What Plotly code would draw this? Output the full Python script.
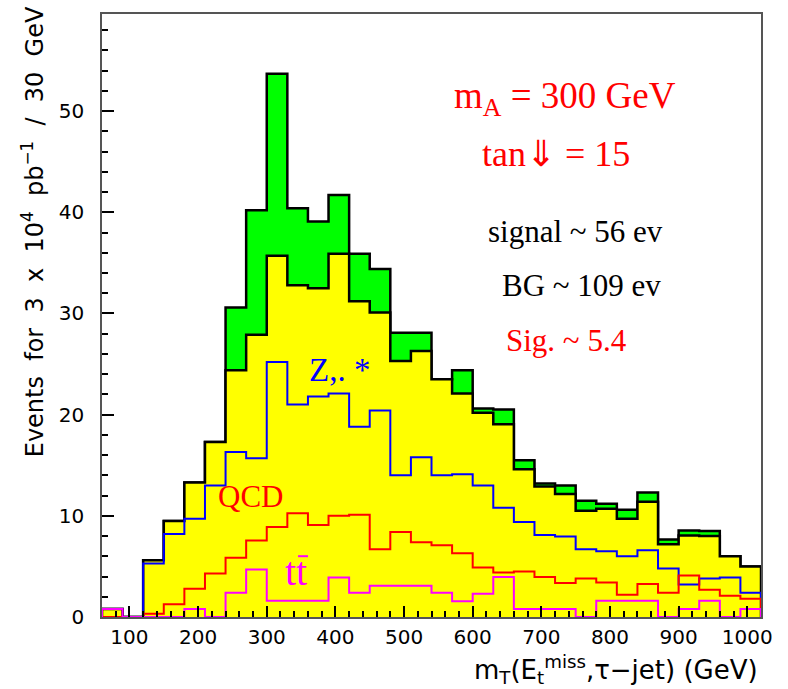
import plotly.graph_objects as go

# ---- data (30 GeV bins from 60 to 1020 GeV) ----
bin_lo = 60
bin_w = 30
n_bins = 32

total_sig_bg = [0.8, 0, 5.6, 9.5, 13.3, 17.3, 30.6, 40.2, 53.7, 40.4, 39.1, 41.7, 35.9, 34.4,
                28.1, 28.1, 23.5, 24.4, 20.6, 20.5, 15.5, 13.2, 13.0, 11.5, 11.2, 10.6, 12.3,
                7.65, 8.55, 8.5, 6.0, 5.0]
total_bg = [0.8, 0, 5.6, 9.5, 13.3, 17.3, 24.4, 27.9, 35.7, 32.8, 32.5, 35.9, 31.2, 30.1,
            25.3, 26.3, 23.5, 22.1, 20.2, 19.05, 14.6, 12.9, 12.15, 10.5, 10.7, 9.7, 11.4,
            7.2, 8.05, 8.0, 6.0, 5.0]
z_gamma = [0, 0, 5.3, 8.2, 9.7, 13.0, 16.3, 15.7, 25.2, 21.0, 21.8, 22.1, 18.8, 20.4,
           14.0, 15.8, 14.0, 14.1, 13.0, 10.8, 9.4, 8.1, 7.95, 6.7, 6.5, 6.0, 6.6,
           4.8, 3.2, 3.8, 3.9, 2.4]
qcd = [0, 0, 0.33, 1.25, 2.8, 4.3, 5.85, 7.55, 8.9, 10.25, 9.1, 10.0, 10.1, 6.7,
       8.4, 7.4, 7.1, 6.3, 4.9, 4.4, 4.5, 3.95, 3.35, 3.8, 3.4, 2.2, 3.25,
       2.4, 4.1, 2.7, 2.1, 1.8]
ttbar = [0.8, 0, 0, 0, 0.8, 0, 2.4, 4.7, 1.6, 1.6, 1.6, 3.9, 2.4, 3.1,
         3.1, 3.1, 2.4, 1.55, 2.3, 3.95, 0.8, 0.8, 0.8, 0, 1.6, 1.6, 1.6,
         0, 0.8, 1.6, 0, 0.8]

x_ticks = [100, 200, 300, 400, 500, 600, 700, 800, 900, 1000]
y_ticks = [0, 10, 20, 30, 40, 50]

edges = [bin_lo + bin_w * i for i in range(n_bins + 1)]

W, H = 788, 689
ML, MR, MT, MB = 102, 27, 12, 72
PW, PH = W - ML - MR, H - MT - MB


def px2paper(px, py):
    return (px - ML) / PW, 1 - (py - MT) / PH


def step_xy(vals):
    xs = [edges[0]] + edges[:-1] + [edges[-1]]
    ys = [0] + list(vals) + [0]
    return xs, ys


fig = go.Figure()

xs, ys = step_xy(total_sig_bg)
fig.add_trace(go.Scatter(x=xs, y=ys, mode="lines", line=dict(shape="hv", color="black", width=2.5),
                         fill="tozeroy", fillcolor="#00ff00", hoverinfo="skip", showlegend=False))
xs, ys = step_xy(total_bg)
fig.add_trace(go.Scatter(x=xs, y=ys, mode="lines", line=dict(shape="hv", color="black", width=2.5),
                         fill="tozeroy", fillcolor="#ffff00", hoverinfo="skip", showlegend=False))
for vals, col in [(z_gamma, "#0000ff"), (qcd, "#ff0000"), (ttbar, "#ff00ff")]:
    xs, ys = step_xy(vals)
    fig.add_trace(go.Scatter(x=xs, y=ys, mode="lines", line=dict(shape="hv", color=col, width=2),
                             hoverinfo="skip", showlegend=False))

tickfont = dict(family="DejaVu Sans", size=20, color="black")
fig.update_layout(
    width=W, height=H,
    margin=dict(l=ML, r=MR, t=MT, b=MB),
    paper_bgcolor="white", plot_bgcolor="white",
    showlegend=False,
    xaxis=dict(range=[edges[0], edges[-1]], tickvals=x_ticks, ticks="inside", ticklen=11,
               tickwidth=1.5, tickcolor="black", showgrid=False, zeroline=False,
               showline=True, linecolor="#555555", linewidth=1.5, mirror=True,
               minor=dict(dtick=20, tick0=0, ticks="inside", ticklen=6, tickwidth=1.5, tickcolor="black"),
               tickfont=tickfont, ticklabelstandoff=1),
    yaxis=dict(range=[0, 59.6], tickvals=y_ticks, ticks="inside", ticklen=12,
               tickwidth=1.5, tickcolor="black", showgrid=False, zeroline=False,
               showline=True, linecolor="#555555", linewidth=1.5, mirror=True,
               minor=dict(dtick=2, tick0=0, ticks="inside", ticklen=6, tickwidth=1.5, tickcolor="black"),
               tickfont=tickfont, ticklabelstandoff=12),
)

serif = "Liberation Serif"
ann = [
    dict(text="m<sub>A</sub> = 300 GeV", x=565, y=97, size=37, color="#ff0000"),
    dict(text="tan\u21d3 = 15", x=556, y=152, size=36, color="#ff0000"),
    dict(text="signal ~ 56 ev", x=575, y=230, size=31, color="black"),
    dict(text="BG ~ 109 ev", x=581, y=284, size=31, color="black"),
    dict(text="Sig. ~ 5.4", x=566, y=340, size=31, color="#ff0000"),
    dict(text="Z,. *", x=339, y=369, size=33, color="#0000ff"),
    dict(text="QCD", x=250, y=496, size=31, color="#ff0000"),
    dict(text="tt", x=296, y=571, size=40, color="#ff00ff"),
]
for a in ann:
    ax, ay = px2paper(a["x"], a["y"])
    fig.add_annotation(text=a["text"], xref="paper", yref="paper", x=ax, y=ay,
                       xanchor="center", yanchor="middle", showarrow=False,
                       font=dict(family=serif, size=a["size"], color=a["color"]))

# bar over the second t of t-tbar
bx0, by0 = px2paper(298, 556)
bx1, by1 = px2paper(308, 556)
fig.add_shape(type="line", xref="paper", yref="paper", x0=bx0, y0=by0, x1=bx1, y1=by1,
              line=dict(color="#ff00ff", width=2))

sp = "\u00a0\u00a0"
ytitle = f"Events{sp}for{sp}3{sp}x{sp}10<sup>4</sup>{sp}pb<sup>\u22121</sup>{sp}/{sp}30{sp}GeV"
tx, ty = px2paper(33, 231)
fig.add_annotation(text=ytitle, xref="paper", yref="paper", x=tx, y=ty,
                   xanchor="center", yanchor="middle", textangle=-90, showarrow=False,
                   font=dict(family="DejaVu Sans", size=24, color="black"))
tx, ty = px2paper(760, 670)
fig.add_annotation(text="m<sub>T</sub>(E<sub>t</sub><sup>miss</sup>,\u03c4\u2212jet)\u00a0(GeV)",
                   xref="paper", yref="paper", x=tx, y=ty, xanchor="right", yanchor="middle",
                   showarrow=False, font=dict(family="DejaVu Sans", size=26, color="black"))

fig.write_html("out.html")
